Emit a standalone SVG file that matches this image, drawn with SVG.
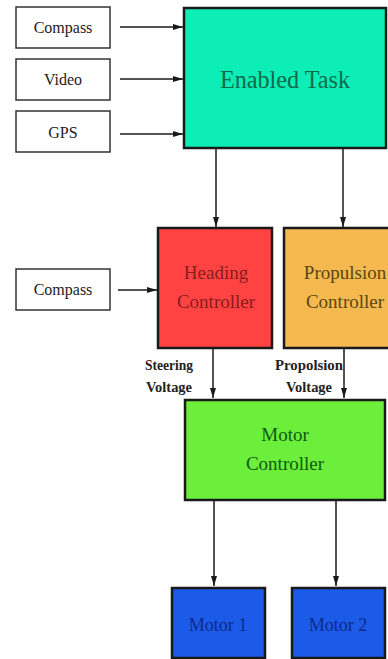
<svg xmlns="http://www.w3.org/2000/svg" width="388" height="659" viewBox="0 0 388 659">
<style>
.in{fill:#fff;stroke:#333;stroke-width:1.5}
.blk{stroke:#1a1a1a;stroke-width:2.5}
.t{font-family:'Liberation Serif','DejaVu Serif',serif;text-anchor:middle}
.c{stroke:#1a1a1a;stroke-width:1.5;fill:none;marker-end:url(#ah)}
</style>
<defs>
<marker id="ah" viewBox="0 0 10 6" refX="10" refY="3" markerWidth="10" markerHeight="6" markerUnits="userSpaceOnUse" orient="auto">
<path d="M0,0 L10,3 L0,6 Z" fill="#1a1a1a"/>
</marker>
</defs>
<rect width="388" height="659" fill="#fff"/>
<g id="connectors">
<line class="c" x1="120" y1="27" x2="183" y2="27"/>
<line class="c" x1="120" y1="79" x2="183" y2="79"/>
<line class="c" x1="120" y1="134" x2="183" y2="134"/>
<line class="c" x1="216" y1="149" x2="216" y2="227"/>
<line class="c" x1="343" y1="149" x2="343" y2="227"/>
<line class="c" x1="118" y1="290" x2="157" y2="290"/>
<line class="c" x1="213" y1="349" x2="213" y2="398"/>
<line class="c" x1="344" y1="349" x2="344" y2="398"/>
<line class="c" x1="214" y1="501" x2="214" y2="586"/>
<line class="c" x1="336" y1="501" x2="336" y2="586"/>
</g>
<g id="compass1"><rect class="in" x="16" y="7" width="94" height="41"/><text class="t" font-family="Liberation Serif, DejaVu Serif, serif" x="63" y="33" font-size="16" fill="#222">Compass</text></g>
<g id="video"><rect class="in" x="16" y="59" width="94" height="41"/><text class="t" font-family="Liberation Serif, DejaVu Serif, serif" x="63" y="85" font-size="16" fill="#222">Video</text></g>
<g id="gps"><rect class="in" x="16" y="111" width="94" height="41"/><text class="t" font-family="Liberation Serif, DejaVu Serif, serif" x="63" y="138" font-size="16" fill="#222">GPS</text></g>
<g id="enabled"><rect class="blk" x="184" y="8" width="202" height="140" fill="#0ceeb5"/><text class="t" font-family="Liberation Serif, DejaVu Serif, serif" x="285" y="88" font-size="26" fill="#0d6a4c" textLength="130" lengthAdjust="spacingAndGlyphs">Enabled Task</text></g>
<g id="compass2"><rect class="in" x="16" y="269" width="94" height="41"/><text class="t" font-family="Liberation Serif, DejaVu Serif, serif" x="63" y="295" font-size="16" fill="#222">Compass</text></g>
<g id="heading"><rect class="blk" x="158" y="228" width="114" height="120" fill="#ff4343"/><text class="t" font-family="Liberation Serif, DejaVu Serif, serif" x="216" y="279" font-size="19" fill="#8a1c1c">Heading</text><text class="t" font-family="Liberation Serif, DejaVu Serif, serif" x="216" y="308" font-size="19" fill="#8a1c1c">Controller</text></g>
<g id="propulsion"><rect class="blk" x="284" y="228" width="106" height="120" fill="#f6b94f"/><text class="t" font-family="Liberation Serif, DejaVu Serif, serif" x="345" y="279" font-size="19" fill="#5a4612">Propulsion</text><text class="t" font-family="Liberation Serif, DejaVu Serif, serif" x="345" y="308" font-size="19" fill="#5a4612">Controller</text></g>
<g id="steering-label"><text class="t" font-family="Liberation Serif, DejaVu Serif, serif" x="169" y="370" font-size="14" font-weight="bold" fill="#222" textLength="48" lengthAdjust="spacingAndGlyphs">Steering</text><text class="t" font-family="Liberation Serif, DejaVu Serif, serif" x="169" y="392" font-size="14" font-weight="bold" fill="#222" textLength="46" lengthAdjust="spacingAndGlyphs">Voltage</text></g>
<g id="propulsion-label"><text class="t" font-family="Liberation Serif, DejaVu Serif, serif" x="309" y="370" font-size="14" font-weight="bold" fill="#222" textLength="68" lengthAdjust="spacingAndGlyphs">Propolsion</text><text class="t" font-family="Liberation Serif, DejaVu Serif, serif" x="309" y="392" font-size="14" font-weight="bold" fill="#222" textLength="46" lengthAdjust="spacingAndGlyphs">Voltage</text></g>
<g id="motor-controller"><rect class="blk" x="185" y="400" width="200" height="100" fill="#6bef3a"/><text class="t" font-family="Liberation Serif, DejaVu Serif, serif" x="285" y="441" font-size="19" fill="#0d5a12">Motor</text><text class="t" font-family="Liberation Serif, DejaVu Serif, serif" x="285" y="470" font-size="19" fill="#0d5a12">Controller</text></g>
<g id="motor1"><rect class="blk" x="172" y="588" width="93" height="70" fill="#1c5ae8"/><text class="t" font-family="Liberation Serif, DejaVu Serif, serif" x="218" y="631" font-size="18" fill="#0c2a8a">Motor 1</text></g>
<g id="motor2"><rect class="blk" x="292" y="588" width="93" height="70" fill="#1c5ae8"/><text class="t" font-family="Liberation Serif, DejaVu Serif, serif" x="338" y="631" font-size="18" fill="#0c2a8a">Motor 2</text></g>
</svg>
